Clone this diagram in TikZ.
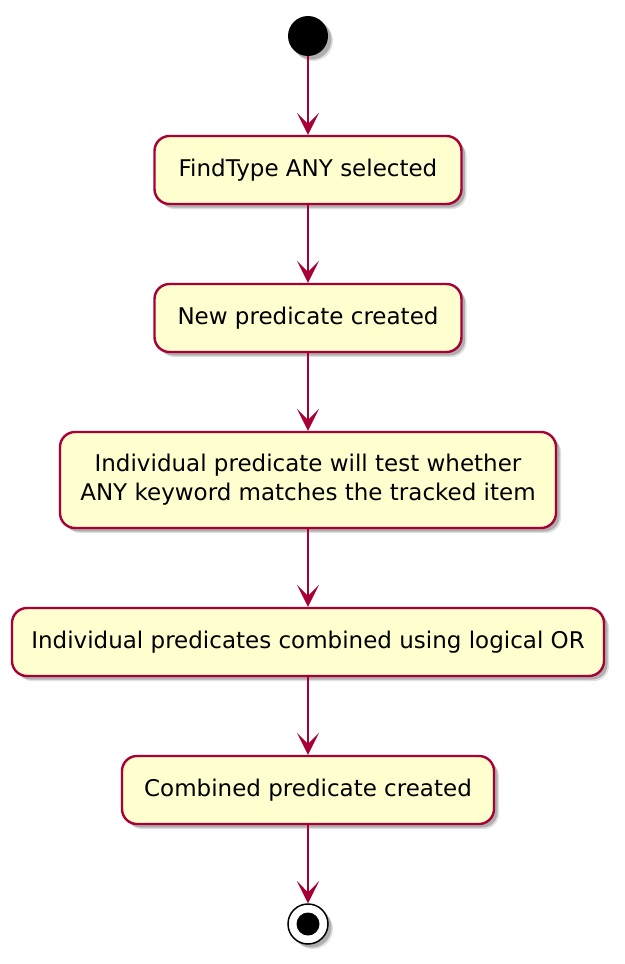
\documentclass[tikz,border=0pt]{standalone}
\usepackage{fontspec}
\setmainfont{DejaVu Sans}
\usetikzlibrary{arrows.meta,shadows}
\definecolor{umlborder}{HTML}{A80036}
\definecolor{umlfill}{HTML}{FEFECE}
\tikzset{
  softshadow/.style={
    drop shadow={shadow xshift=5pt, shadow yshift=-5pt, fill=black, opacity=0.12},
    drop shadow={shadow xshift=3.5pt, shadow yshift=-3.5pt, fill=black, opacity=0.22}},
  actbox/.style={draw=umlborder, fill=umlfill, line width=2.4pt, rounded corners=15pt,
    align=center, inner sep=0pt, font=\fontsize{23}{29}\selectfont, softshadow},
  flow/.style={draw=umlborder, line width=1.5pt,
    -{Stealth[length=22pt,width=22pt,inset=11pt]}},
  startnode/.style={circle, fill=black, minimum size=40pt, inner sep=0pt, softshadow},
  endouter/.style={circle, draw=black, fill=white, line width=1.5pt, minimum size=40pt, inner sep=0pt, softshadow},
  endinner/.style={circle, fill=black, minimum size=23pt, inner sep=0pt}
}
\begin{document}
\begin{tikzpicture}[x=1pt,y=-1pt]
\useasboundingbox (0,0) rectangle (624,964);
\node[startnode] (start) at (308,36) {};
\node[actbox, minimum width=307pt, minimum height=68pt] (b1) at (308,170) {FindType ANY selected};
\node[actbox, minimum width=307pt, minimum height=68pt] (b2) at (308,318) {New predicate created};
\node[actbox, minimum width=496pt, minimum height=96pt] (b3) at (308,480) {Individual predicate will test whether\\ANY keyword matches the tracked item};
\node[actbox, minimum width=592pt, minimum height=68pt] (b4) at (308,642) {Individual predicates combined using logical OR};
\node[actbox, minimum width=372pt, minimum height=68pt] (b5) at (308,790) {Combined predicate created};
\node[endouter] (endo) at (308,924) {};
\node[endinner] (endi) at (308,924) {};
\draw[flow] (start) -- (b1);
\draw[flow] (b1) -- (b2);
\draw[flow] (b2) -- (b3);
\draw[flow] (b3) -- (b4);
\draw[flow] (b4) -- (b5);
\draw[flow] (b5) -- (endo);
\end{tikzpicture}
\end{document}
